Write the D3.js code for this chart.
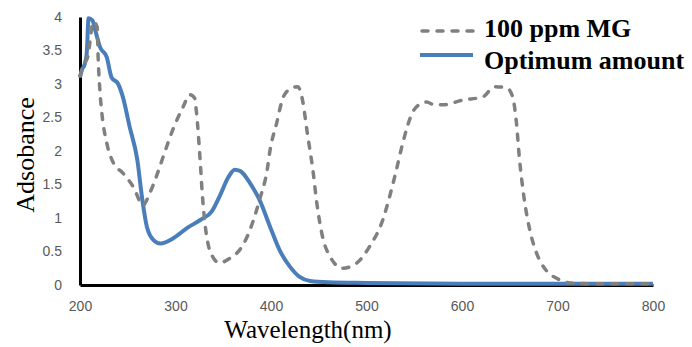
<!DOCTYPE html>
<html><head><meta charset="utf-8">
<script src="https://cdn.jsdelivr.net/npm/d3@7"></script>
<style>body{margin:0;background:#fff}</style>
</head><body>
<svg id="chart" width="692" height="347"></svg>
<script>
// Wavelength (nm) / absorbance
const mgWavelength = [200,204,208,214,218,219,221,223,228,235,245,256,266,273,280,287,297,308,315,320,322,326,328,331,334,339,346,357,367,375,388,396,399,406,413,422,428,433,438,444,448,454,462,475,490,503,517,524,531,538,548,556,563,571,580,601,622,634,647,653,657,660,665,671,678,688,699,713,730,800];
const mgAbs = [3.12,3.3,3.4,3.93,3.85,3.4,2.87,2.55,2.12,1.82,1.67,1.46,1.19,1.37,1.62,1.91,2.31,2.66,2.84,2.79,2.57,1.82,1.37,0.9,0.62,0.42,0.33,0.40,0.52,0.72,1.27,1.72,2.01,2.42,2.81,2.94,2.96,2.76,2.27,1.7,1.22,0.72,0.42,0.25,0.33,0.57,0.97,1.31,1.7,2.12,2.57,2.7,2.73,2.69,2.69,2.76,2.81,2.96,2.94,2.81,2.42,1.91,1.3,0.82,0.48,0.22,0.1,0.03,0.02,0.02];
const optWavelength = [200,202,205,207,209,213,216,221,228,233,240,245,252,260,265,270,277,284,298,312,326,338,347,355,362,368,378,388,399,409,420,430,441,460,500,600,700,800];
const optAbs = [3.1,3.21,3.3,3.45,3.98,3.95,3.8,3.55,3.4,3.1,3.0,2.8,2.36,1.87,1.3,0.87,0.67,0.62,0.70,0.85,0.97,1.1,1.35,1.6,1.72,1.70,1.52,1.27,0.87,0.52,0.27,0.12,0.06,0.04,0.03,0.02,0.02,0.02];
const xTicks = [200,300,400,500,600,700,800];
const yTicks = [0,0.5,1,1.5,2,2.5,3,3.5,4];
const seriesNames = ["100 ppm MG","Optimum amount"];

const svg = d3.select("#chart");
const x = d3.scaleLinear().domain([200,800]).range([80,653]);
const y = d3.scaleLinear().domain([0,4]).range([285,17]);

const mgData = mgWavelength.map((w,i)=>({w, a: mgAbs[i]}));
const optData = optWavelength.map((w,i)=>({w, a: optAbs[i]}));
const line = d3.line().x(d=>x(d.w)).y(d=>y(d.a)).curve(d3.curveMonotoneX);

// axes
const gy = svg.append("g").attr("transform","translate(80,0)")
  .call(d3.axisLeft(y).tickValues(yTicks).tickFormat(d=>String(d)).tickSize(0).tickSizeOuter(0).tickPadding(18));
const gx = svg.append("g").attr("transform","translate(0,285)")
  .call(d3.axisBottom(x).tickValues(xTicks).tickFormat(d=>String(d)).tickSize(0).tickSizeOuter(0).tickPadding(16));
[gx,gy].forEach(g=>{
  g.select(".domain").attr("stroke","#000").attr("stroke-width",3);
  g.selectAll("text").attr("fill","#595959").style("font-family","'Liberation Sans', Arial, sans-serif").style("font-size","14px");
});

// series
svg.append("path").datum(optData).attr("d",line).attr("fill","none")
  .attr("stroke","#4a7ebb").attr("stroke-width",4).attr("stroke-linejoin","round");
svg.append("path").datum(mgData).attr("d",line).attr("fill","none")
  .attr("stroke","#808080").attr("stroke-width",3.5).attr("stroke-dasharray","6,9").attr("stroke-linecap","round");

// axis titles
svg.append("text").attr("transform","translate(34,155) rotate(-90)").attr("text-anchor","middle")
  .style("font-family","'Liberation Serif', 'Times New Roman', serif").style("font-size","26px").attr("fill","#000").text("Adsobance");
svg.append("text").attr("x",308).attr("y",338).attr("text-anchor","middle")
  .style("font-family","'Liberation Serif', 'Times New Roman', serif").style("font-size","25px").attr("fill","#000").text("Wavelength(nm)");

// legend
const lg = svg.append("g");
lg.append("line").attr("x1",422).attr("x2",475).attr("y1",31).attr("y2",31)
  .attr("stroke","#808080").attr("stroke-width",3.5).attr("stroke-dasharray","6,9").attr("stroke-linecap","round");
lg.append("line").attr("x1",420).attr("x2",473).attr("y1",55).attr("y2",55)
  .attr("stroke","#4a7ebb").attr("stroke-width",4);
lg.selectAll("text.leg").data(seriesNames).enter().append("text").attr("class","leg")
  .attr("x",484).attr("y",(d,i)=>i===0?37:69)
  .style("font-family","'Liberation Serif', 'Times New Roman', serif").style("font-size","26px").style("font-weight","bold")
  .attr("fill","#000").text(d=>d);
</script>
</body></html>
